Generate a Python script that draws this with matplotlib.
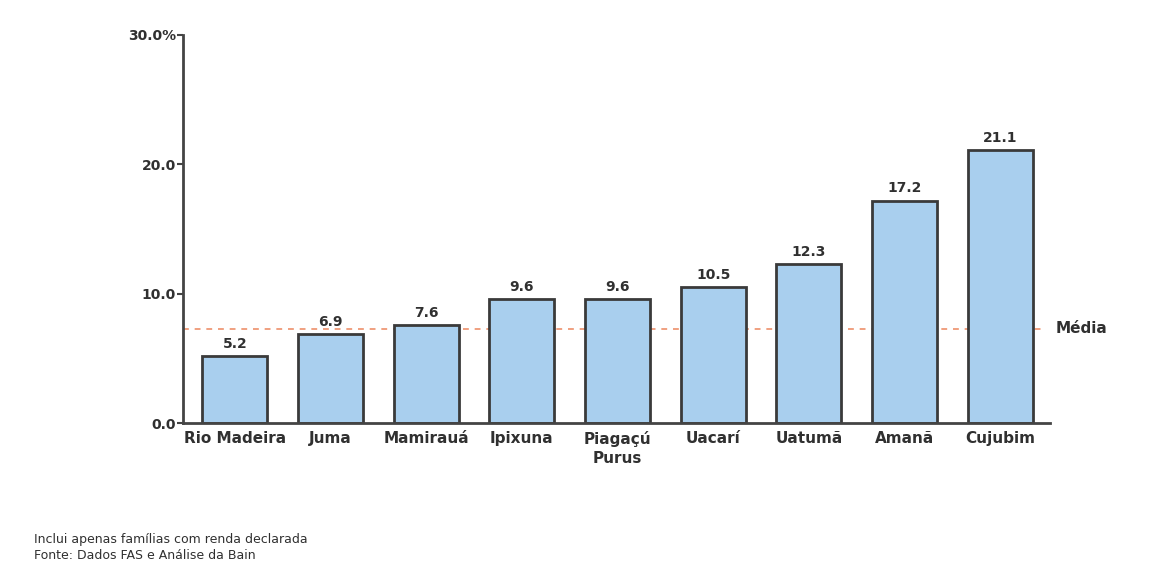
import matplotlib
matplotlib.use("Agg")
import matplotlib.pyplot as plt

# Share of families per reserve (%)
categories = ["Rio Madeira", "Juma", "Mamirauá", "Ipixuna", "Piagaçú\nPurus",
              "Uacarí", "Uatumã", "Amanã", "Cujubim"]
values = [5.2, 6.9, 7.6, 9.6, 9.6, 10.5, 12.3, 17.2, 21.1]
mean_value = 7.3
y_ticks = [0, 10, 20, 30]
y_tick_labels = ["0.0", "10.0", "20.0", "30.0%"]
footnotes = ["Inclui apenas famílias com renda declarada",
             "Fonte: Dados FAS e Análise da Bain"]

plt.rcParams["font.family"] = "sans-serif"
plt.rcParams["font.sans-serif"] = ["DejaVu Sans"]
text_color = "#303030"
spine_color = "#444444"

fig = plt.figure(figsize=(11.59, 5.83), dpi=100)
ax = fig.add_axes([0.158, 0.2744, 0.748, 0.6656])

x = list(range(len(categories)))
ax.bar(x, values, width=0.68, color="#a9cfee", edgecolor="#3a3a3a",
       linewidth=2.0, zorder=2)

for xi, v in zip(x, values):
    ax.text(xi, v + 0.4, f"{v:.1f}", ha="center", va="bottom",
            fontsize=10, fontweight="bold", color=text_color, zorder=3)

ax.axhline(mean_value, color="#f0a080", linestyle=(0, (3, 3)), linewidth=1.4,
           zorder=1, xmin=0, xmax=0.995)
ax.text(8.58, mean_value, "Média", ha="left", va="center", fontsize=11,
        fontweight="bold", color=text_color)

ax.set_xlim(-0.54, 8.52)
ax.set_ylim(0, 30)
ax.set_xticks(x)
ax.set_xticklabels(categories, fontsize=11, fontweight="bold",
                   color=text_color, linespacing=1.3)
ax.set_yticks(y_ticks)
ax.set_yticklabels(y_tick_labels, fontsize=10, fontweight="bold",
                   color=text_color)
ax.tick_params(axis="x", length=0, pad=6)
ax.tick_params(axis="y", length=4, width=1.5, color=spine_color, pad=1)

for side in ("top", "right"):
    ax.spines[side].set_visible(False)
for side in ("left", "bottom"):
    ax.spines[side].set_color(spine_color)
    ax.spines[side].set_linewidth(2.0)

fig.text(0.029, 0.061, footnotes[0] + "\n" + footnotes[1], ha="left",
         va="center", fontsize=9, color=text_color, linespacing=1.35)

fig.savefig("out.png", dpi=100, facecolor="white")
